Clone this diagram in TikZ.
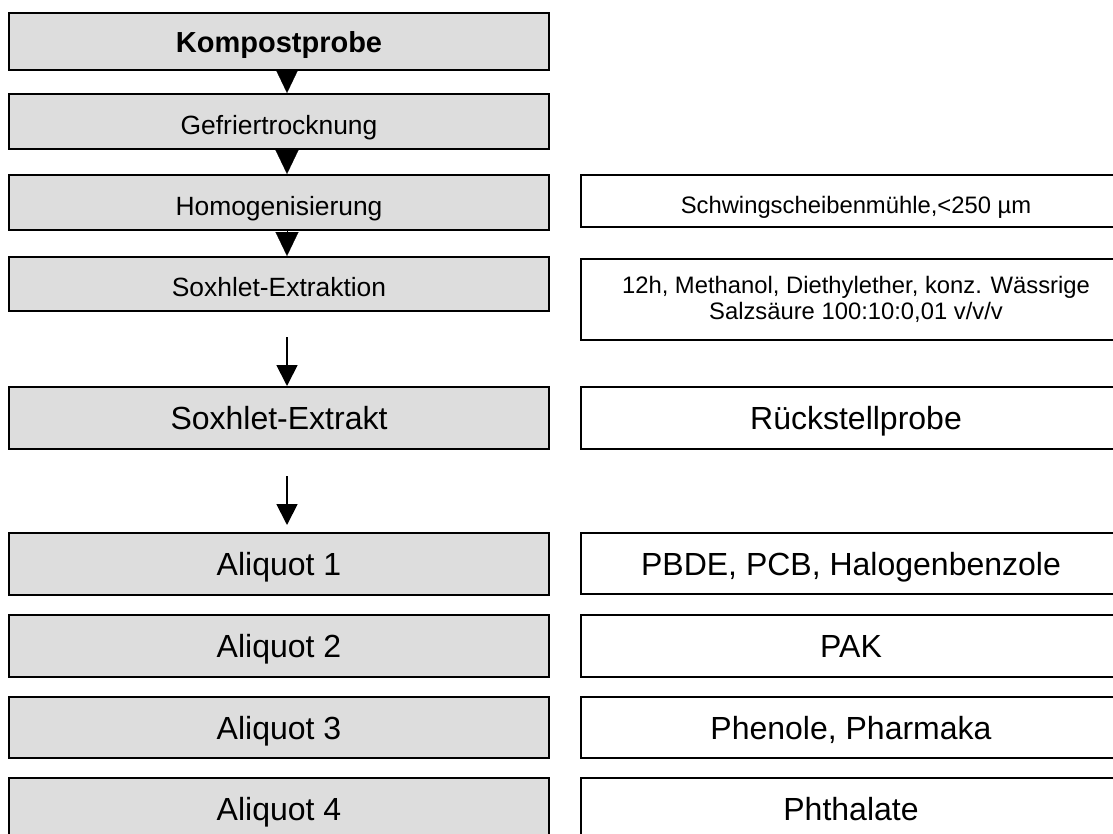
\documentclass[tikz,border=0pt]{standalone}
\usepackage{fontspec}
\setmainfont{Liberation Sans}
\usetikzlibrary{arrows.meta}
\definecolor{boxgray}{RGB}{221,221,221}
\begin{document}
\begin{tikzpicture}[x=1pt,y=-1pt,
  box/.style={draw=black, line width=2pt, minimum width=540pt, inner sep=0pt,
    anchor=north west, text depth=0pt},
  lbox/.style={box, fill=boxgray},
  rbox/.style={box, fill=white},
  fbold/.style={font=\fontsize{29}{33}\selectfont\bfseries, text height=22pt},
  fone/.style={font=\fontsize{26.4}{30}\selectfont, text height=25pt},
  ftwo/.style={font=\fontsize{32}{36}\selectfont, text height=23pt},
  fnote/.style={font=\fontsize{23.8}{27}\selectfont, text height=25pt},
  tri/.style={-{Triangle[length=24pt,width=23pt]}, line width=0.2pt},
  arr/.style={-{Triangle[length=21pt,width=21pt]}, line width=1.8pt}]
\useasboundingbox (0,0) rectangle (1113,833);
\begin{scope}
\clip (0,0) rectangle (1113,833);
% left column
\node[lbox, fbold, minimum height=57pt] (kom) at (8,12) {Kompostprobe};
\node[lbox, fone, minimum height=55pt] (gef) at (8,93) {Gefriertrocknung};
\node[lbox, fone, minimum height=55pt] (hom) at (8,174) {Homogenisierung};
\node[lbox, fone, minimum height=54pt] (sox) at (8,256) {Soxhlet-Extraktion};
\node[lbox, ftwo, minimum height=62pt] (ext) at (8,386) {Soxhlet-Extrakt};
\node[lbox, ftwo, minimum height=62pt] (al1) at (8,532) {Aliquot 1};
\node[lbox, ftwo, minimum height=62pt] (al2) at (8,614) {Aliquot 2};
\node[lbox, ftwo, minimum height=61pt] (al3) at (8,696) {Aliquot 3};
\node[lbox, ftwo, minimum height=61pt] (al4) at (8,777) {Aliquot 4};
% right column
\node[rbox, fnote, minimum height=52pt, minimum width=550pt] (r1) at (580,174) {Schwingscheibenmühle,<250 µm};
\node[rbox, font=\fontsize{23.8}{26}\selectfont, minimum height=81pt, minimum width=550pt, align=center, text depth=, yshift=-2pt] (r2) at (580,256)
  {12h, Methanol, Diethylether, konz. Wässrige\\Salzsäure 100:10:0,01 v/v/v};
\node[rbox, ftwo, minimum height=62pt, minimum width=550pt] (r3) at (580,386) {Rückstellprobe};
\node[rbox, ftwo, minimum height=61pt] (r4) at (580,532) {PBDE, PCB, Halogenbenzole};
\node[rbox, ftwo, minimum height=62pt] (r5) at (580,614) {PAK};
\node[rbox, ftwo, minimum height=61pt] (r6) at (580,696) {Phenole, Pharmaka};
\node[rbox, ftwo, minimum height=61pt] (r7) at (580,777) {Phthalate};
\end{scope}
% arrows
\coordinate (ax) at (287,0);
\coordinate (s4) at (287,337);
\coordinate (s5) at (287,476);
\draw[tri] (kom.south -| ax) -- (gef.north -| ax);
\draw[tri] (gef.south -| ax) -- (hom.north -| ax);
\draw[tri] (hom.south -| ax) -- (sox.north -| ax);
\draw[arr] (s4) -- (ext.north -| ax);
\draw[arr, shorten >=7pt] (s5) -- (al1.north -| ax);
\end{tikzpicture}
\end{document}
